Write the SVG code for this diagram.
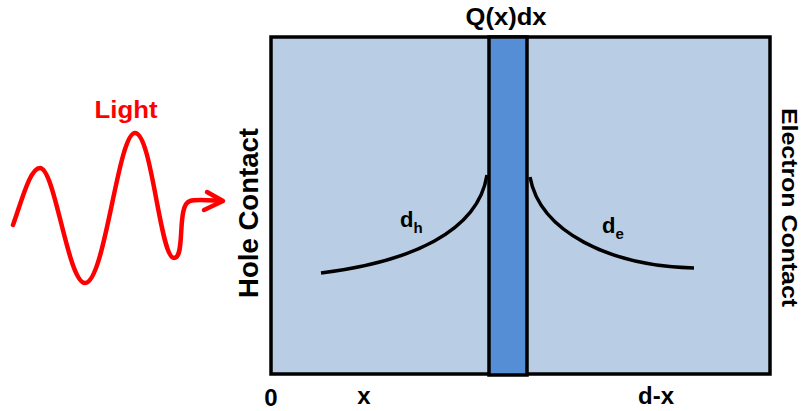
<svg xmlns="http://www.w3.org/2000/svg" width="805" height="411" viewBox="0 0 805 411">
<style>
.t{font-family:"Liberation Sans",Arial,sans-serif;font-weight:bold;fill:#000}
.curve{fill:none;stroke:#000;stroke-width:3.5}
</style>
<rect width="805" height="411" fill="#fff"/>
<g id="light">
<path d="M13,225 C22,200 30,168 40,168 C55,168 68,283 85,283 C105,283 118,133 135,133 C152,133 160,258 174,258 C186,258 176,205 190,201 C196,199 205,200 221,201" fill="none" stroke="#FF0000" stroke-width="4.5" stroke-linecap="round" stroke-linejoin="round"/>
<path d="M207,192 L223,201 L204,210" fill="none" stroke="#FF0000" stroke-width="4.5" stroke-linecap="round" stroke-linejoin="round"/>
<text x="126" y="118" text-anchor="middle" class="t" style="fill:#FF0000" font-size="23" textLength="63" lengthAdjust="spacingAndGlyphs">Light</text>
</g>
<g id="device">
<rect x="271" y="37" width="499" height="337" fill="#B9CDE5" stroke="#000" stroke-width="3.5"/>
</g>
<g id="slab">
<rect x="489" y="37" width="38" height="338" fill="#558ED5" stroke="#000" stroke-width="3.5"/>
<text x="506" y="25" text-anchor="middle" class="t" font-size="24" textLength="81" lengthAdjust="spacingAndGlyphs">Q(x)dx</text>
</g>
<g id="connectors">
<path class="curve" d="M321,273 C410,262 478,232 487,175"/>
<path class="curve" d="M530,177 C540,232 610,266 694,268"/>
</g>
<g id="labels">
<text x="400" y="227" class="t" font-size="22">d<tspan font-size="15" dy="6">h</tspan></text>
<text x="602" y="233" class="t" font-size="22">d<tspan font-size="15" dy="6">e</tspan></text>
<text transform="translate(258,213) rotate(-90)" text-anchor="middle" class="t" font-size="27" textLength="170" lengthAdjust="spacingAndGlyphs">Hole Contact</text>
<text transform="translate(782,207.5) rotate(90)" text-anchor="middle" class="t" font-size="22" textLength="199" lengthAdjust="spacingAndGlyphs">Electron Contact</text>
<text x="271" y="406" text-anchor="middle" class="t" font-size="24">0</text>
<text x="364" y="404" text-anchor="middle" class="t" font-size="24">x</text>
<text x="656" y="404" text-anchor="middle" class="t" font-size="24">d-x</text>
</g>
</svg>
